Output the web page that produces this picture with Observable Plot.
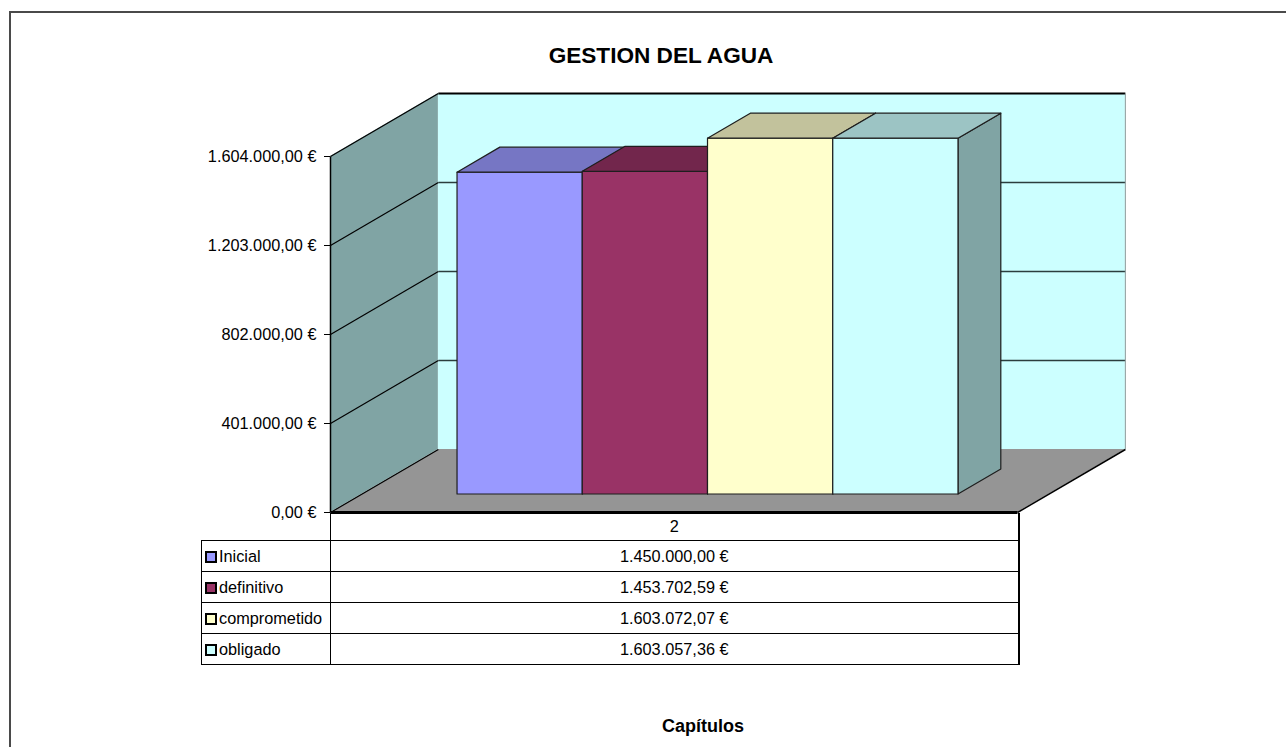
<!DOCTYPE html>
<html>
<head>
<meta charset="utf-8">
<script src="https://cdn.jsdelivr.net/npm/d3@7"></script>
<script src="https://cdn.jsdelivr.net/npm/@observablehq/plot@0.6"></script>
<style>
html,body{margin:0;padding:0;background:#fff;overflow:hidden;}
#wrap{position:relative;width:1286px;height:747px;overflow:hidden;background:#fff;}
#frame{position:absolute;left:9px;top:11px;width:1400px;height:900px;border-top:2px solid #4a4a4a;border-left:2px solid #4a4a4a;}
#chart{position:absolute;left:0;top:0;}
#title{position:absolute;left:461px;width:400px;top:44px;text-align:center;font-family:"Liberation Sans",Arial,sans-serif;font-weight:bold;font-size:22.6px;line-height:23px;color:#000;}
#xlabel{position:absolute;left:603px;width:200px;top:717px;text-align:center;font-family:"Liberation Sans",Arial,sans-serif;font-weight:bold;font-size:18px;line-height:18.5px;color:#000;}
#dt{position:absolute;left:201px;top:513px;border-collapse:collapse;table-layout:fixed;width:817px;font-family:var(--f);font-size:var(--fs);color:#000;}
#dt td{padding:0;white-space:nowrap;overflow:hidden;line-height:1;}
#dt tr.h td{height:27px;}
#dt tr.r td{height:30px;border-top:1px solid #000;border-bottom:1px solid #000;}
#dt td.blank{border-right:1px solid #000;}
#dt td.hdr{text-align:center;border-right:2px solid #000;}
#dt td.lg{border-left:1px solid #000;border-right:1px solid #000;padding-left:3px;}
#dt td.val{text-align:center;border-right:2px solid #000;}
.sw{display:inline-block;width:8px;height:8px;border:2px solid #000;margin-right:2px;vertical-align:-1px;}
</style>
</head>
<body>
<div id="wrap">
  <div id="frame"></div>
  <div id="chart"></div>
  <div id="title">GESTION DEL AGUA</div>
  <table id="dt"><colgroup><col style="width:129px"><col style="width:688px"></colgroup><tbody id="tb"></tbody></table>
  <div id="xlabel">Capítulos</div>
</div>
<script>
// ---- data ----
const category = "2";
const series = ["Inicial", "definitivo", "comprometido", "obligado"];
const values = [1450000.00, 1453702.59, 1603072.07, 1603057.36];
const yTicks = [0, 401000, 802000, 1203000, 1604000];

// ---- palette ----
const frontColors = ["#9999ff", "#993366", "#ffffcc", "#ccffff"];
const topColors   = ["#7676c4", "#72264c", "#c2c29c", "#9cc4c4"];
const sideColors  = ["#6262a3", "#622141", "#a3a383", "#80a4a4"];

// ---- font detection ----
function hasFont(name) {
  const c = document.createElement("canvas").getContext("2d");
  const s = "comprometido 1.603.072,07";
  c.font = "40px monospace"; const w0 = c.measureText(s).width;
  c.font = `40px "${name}", monospace`; const w1 = c.measureText(s).width;
  return Math.abs(w0 - w1) > 0.5;
}
let FONT, FS;
if (hasFont("Liberation Sans Narrow")) { FONT = '"Liberation Sans Narrow", "Liberation Sans", Arial, sans-serif'; FS = 19.5; }
else { FONT = '"Liberation Sans", Arial, sans-serif'; FS = 16.3; }
document.documentElement.style.setProperty("--f", FONT);
document.documentElement.style.setProperty("--fs", FS + "px");

const fmt = d3.formatLocale({decimal: ",", thousands: ".", grouping: [3], currency: ["", "\u00a0€"]}).format("$,.2f");

// ---- 3D geometry (in scale units) ----
const yMax = yTicks[yTicks.length - 1];
const dX = 0.157, dY = 0.177 * yMax;   // wall depth offset
const f1 = 0.286, f2 = 0.683;          // bar depth span
const gapL = 0.14, barW = 0.1823;

const marks = [];
// back wall
marks.push(Plot.rect([{x1: dX, x2: 1 + dX, y1: dY, y2: yMax + dY}], {x1: "x1", x2: "x2", y1: "y1", y2: "y2", fill: "#ccffff"}));
// back wall gridlines
marks.push(Plot.link(yTicks.slice(1, -1), {x1: () => dX, x2: () => 1 + dX, y1: d => d + dY, y2: d => d + dY, stroke: "#2b3d3d", strokeWidth: 1.3}));
// back wall top and right edges
marks.push(Plot.link([yMax], {x1: () => dX, x2: () => 1 + dX, y1: d => d + dY, y2: d => d + dY, stroke: "#000", strokeWidth: 2}));
marks.push(Plot.link([yMax], {x1: () => 1 + dX, x2: () => 1 + dX, y1: () => dY, y2: d => d + dY, stroke: "#8a9a9a", strokeWidth: 1}));
// floor
const floorPts = [
  {x: 0, y1: 0, y2: 0},
  {x: dX, y1: 0, y2: dY},
  {x: 1, y1: 0, y2: dY},
  {x: 1 + dX, y1: dY, y2: dY}
];
marks.push(Plot.areaY(floorPts, {x: "x", y1: "y1", y2: "y2", fill: "#959595", curve: "linear"}));
// left wall
const wallPts = [{x: 0, y1: 0, y2: yMax}, {x: dX, y1: dY, y2: yMax + dY}];
marks.push(Plot.areaY(wallPts, {x: "x", y1: "y1", y2: "y2", fill: "#80a4a4", curve: "linear"}));
// left wall gridlines (incl. floor/top edges)
marks.push(Plot.link(yTicks, {x1: () => 0, x2: () => dX, y1: d => d, y2: d => d + dY, stroke: "#000", strokeWidth: 1.2}));
// left wall front edge (axis line)
marks.push(Plot.link([yMax], {x1: () => 0, x2: () => 0, y1: () => 0, y2: d => d, stroke: "#000", strokeWidth: 1.5}));

// bars
values.forEach((v, i) => {
  const x0 = gapL + i * barW, x1 = x0 + barW;
  const ax = f1 * dX, ay = f1 * dY, bx = f2 * dX, by = f2 * dY;
  const st = {stroke: "#1e1e1e", strokeWidth: 1.2, strokeLinejoin: "round"};
  // side face
  marks.push(Plot.areaY([{x: x1 + ax, y1: ay, y2: v + ay}, {x: x1 + bx, y1: by, y2: v + by}],
    {x: "x", y1: "y1", y2: "y2", fill: sideColors[i], curve: "linear", ...st}));
  // front face
  marks.push(Plot.rect([{x1: x0 + ax, x2: x1 + ax, y1: ay, y2: v + ay}],
    {x1: "x1", x2: "x2", y1: "y1", y2: "y2", fill: frontColors[i], ...st}));
  // top face
  marks.push(Plot.areaY([
      {x: x0 + ax, y1: v + ay, y2: v + ay},
      {x: x0 + bx, y1: v + ay, y2: v + by},
      {x: x1 + ax, y1: v + ay, y2: v + by},
      {x: x1 + bx, y1: v + by, y2: v + by}
    ], {x: "x", y1: "y1", y2: "y2", fill: topColors[i], curve: "linear", ...st}));
});

// floor front edge and right edge
marks.push(Plot.link([0], {x1: () => 0, x2: () => 1, y1: () => 0, y2: () => 0, stroke: "#000", strokeWidth: 3}));
marks.push(Plot.link([0], {x1: () => 1, x2: () => 1 + dX, y1: () => 0, y2: () => dY, stroke: "#000", strokeWidth: 1.5}));

// y axis
marks.push(Plot.axisY(yTicks, {tickFormat: fmt, tickSize: 6, tickPadding: 8, label: null, fontSize: FS, stroke: "#000"}));

const chart = Plot.plot({
  width: 1286,
  height: 747,
  marginLeft: 330,
  marginRight: 269,
  marginTop: 156,
  marginBottom: 235,
  x: {domain: [0, 1], axis: null},
  y: {domain: [0, yMax]},
  style: {fontFamily: FONT, fontSize: FS + "px", background: "transparent", overflow: "visible", color: "#000"},
  marks
});
document.getElementById("chart").appendChild(chart);

// data table
const tb = document.getElementById("tb");
const hr = document.createElement("tr"); hr.className = "h";
hr.innerHTML = `<td class="blank"></td><td class="hdr">${category}</td>`;
tb.appendChild(hr);
series.forEach((s, i) => {
  const tr = document.createElement("tr"); tr.className = "r";
  tr.innerHTML = `<td class="lg"><span class="sw" style="background:${frontColors[i]}"></span>${s}</td><td class="val">${fmt(values[i])}</td>`;
  tb.appendChild(tr);
});
</script>
</body>
</html>
